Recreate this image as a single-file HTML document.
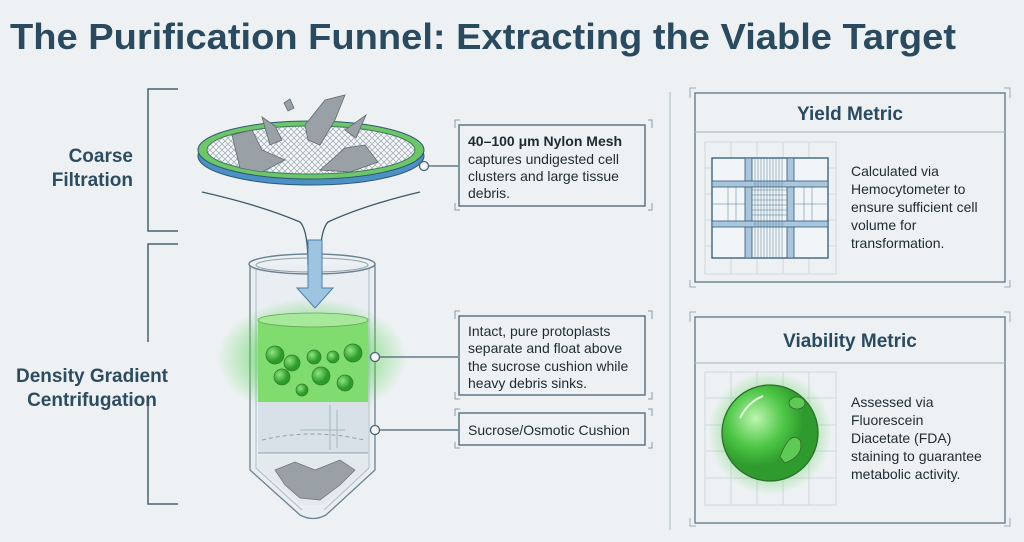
<!DOCTYPE html>
<html><head><meta charset="utf-8"><style>
html,body{margin:0;padding:0;background:#edf1f3;}
svg{display:block;font-family:"Liberation Sans",sans-serif;}
</style></head><body>
<svg width="1024" height="542" viewBox="0 0 1024 542" xmlns="http://www.w3.org/2000/svg">
<defs>
<pattern id="mesh" width="6" height="6" patternUnits="userSpaceOnUse"><rect width="6" height="6" fill="#f4f6f7"/><path d="M0 0L6 6M6 0L0 6" stroke="#9aa8b0" stroke-width="0.7"/></pattern>
<radialGradient id="glow"><stop offset="0.5" stop-color="#4fd14a" stop-opacity="0.6"/><stop offset="1" stop-color="#4fd14a" stop-opacity="0"/></radialGradient>
<radialGradient id="ball" cx="0.35" cy="0.35"><stop offset="0" stop-color="#bdf5b0"/><stop offset="0.6" stop-color="#4cc645"/><stop offset="1" stop-color="#2f9a2d"/></radialGradient>
<radialGradient id="sball" cx="0.35" cy="0.35"><stop offset="0" stop-color="#8fe67f"/><stop offset="1" stop-color="#2d9b2a"/></radialGradient>
</defs>
<rect width="1024" height="542" fill="#edf1f3"/>
<text x="10" y="49" font-size="36" font-weight="bold" fill="#2a4a5f" textLength="946" lengthAdjust="spacingAndGlyphs">The Purification Funnel: Extracting the Viable Target</text>

<!-- left brackets -->
<g stroke="#4a6373" stroke-width="1.5" fill="none">
<path d="M178 89H148V231H178"/>
<path d="M178 244H148V342"/>
<path d="M148 405V504H178"/>
</g>
<g font-size="19" font-weight="bold" fill="#2d4c60" text-anchor="end">
<text x="133" y="162">Coarse</text>
<text x="133" y="186">Filtration</text>
</g>
<g font-size="19" font-weight="bold" fill="#2d4c60" text-anchor="middle">
<text x="92" y="382">Density Gradient</text>
<text x="92" y="406">Centrifugation</text>
</g>

<!-- divider -->
<line x1="670" y1="92" x2="670" y2="530" stroke="#b7c3ca" stroke-width="1.2"/>

<!-- sieve -->
<ellipse cx="311" cy="156" rx="113" ry="29" fill="#4c91c5" stroke="#2f5870" stroke-width="1"/>
<ellipse cx="311" cy="150" rx="113" ry="29" fill="#6dc66a" stroke="#2f5870" stroke-width="1"/>
<ellipse cx="311" cy="150" rx="104" ry="24" fill="url(#mesh)" stroke="#3f7a5a" stroke-width="1"/>
<g fill="#9aa1a6" stroke="#5f6a70" stroke-width="0.8">
<path d="M232 135L252 130L262 150L285 160L262 172L240 168Z"/>
<path d="M262 117L275 126L282 140L270 145Z"/>
<path d="M305 125L325 100L345 95L335 120L320 145L308 140Z"/>
<path d="M320 170L345 148L365 145L378 162L350 172Z"/>
<path d="M345 130L366 115L356 138Z"/>
<path d="M284 103L290 99L294 108L288 111Z"/>
</g>
<!-- funnel curves -->
<g stroke="#3e5a6a" stroke-width="1.3" fill="none">
<path d="M202 192Q260 205 300 222Q308 230 308 265"/>
<path d="M420 192Q365 205 328 222Q320 230 320 265"/>
</g>
<!-- tube -->
<path d="M250 265V470L300 515Q313 522 326 515L375 470V265" fill="#e8eef1" stroke="#6b8190" stroke-width="1.3"/>
<path d="M256 268V468L302 510M369 268V468L324 510" stroke="#aebcc4" stroke-width="1" fill="none"/>
<ellipse cx="312" cy="264" rx="63" ry="10" fill="none" stroke="#6b8190" stroke-width="1.5"/>
<ellipse cx="312" cy="265" rx="56" ry="7" fill="none" stroke="#8ea0aa" stroke-width="1"/>
<!-- glow & green layer -->
<ellipse cx="312" cy="358" rx="95" ry="60" fill="url(#glow)"/>
<rect x="258" y="320" width="110" height="82" fill="#80dc6e"/>
<ellipse cx="313" cy="320" rx="55" ry="7" fill="#a8e89a" stroke="#5fa85a" stroke-width="0.8"/>
<g fill="url(#sball)" stroke="#2a7e2a" stroke-width="0.7">
<circle cx="275" cy="355" r="9"/><circle cx="292" cy="363" r="8"/><circle cx="314" cy="357" r="7"/><circle cx="333" cy="357" r="6"/><circle cx="353" cy="353" r="9"/>
<circle cx="282" cy="377" r="8"/><circle cx="302" cy="390" r="6"/><circle cx="321" cy="376" r="9"/><circle cx="345" cy="383" r="8"/>
</g>
<rect x="258" y="402" width="110" height="51" fill="#d7e1e7"/>
<path d="M258 453H368" stroke="#8ea0aa"/>
<path d="M262 440Q312 428 364 440" stroke="#8ea0aa" stroke-dasharray="4 3" fill="none"/>
<path d="M330 405V450M337 410V448M300 430H345" stroke="#a5b6c0" fill="none"/>
<path d="M258 455H368V468L324 505H302L258 468Z" fill="#e3e9ec"/>
<g fill="#9aa1a6" stroke="#6a7378" stroke-width="0.7">
<path d="M275 470L295 462L315 470L340 460L355 470L340 485L320 500L300 498L285 485Z"/>
</g>
<!-- arrow -->
<path d="M308 240H322V288H333L315 308L297 288H308Z" fill="#9fc4e2" stroke="#4a7fa8" stroke-width="1"/>

<!-- connectors -->
<g stroke="#4a6373" stroke-width="1.3" fill="none">
<line x1="424" y1="166" x2="458" y2="166"/>
<line x1="375" y1="357" x2="458" y2="357"/>
<line x1="375" y1="430" x2="458" y2="430"/>
</g>
<g fill="#f4f7f8" stroke="#4a6373" stroke-width="1.3">
<circle cx="424" cy="166" r="4.5"/><circle cx="375" cy="357" r="4.5"/><circle cx="375" cy="430" r="4.5"/>
</g>
<!-- callout boxes -->
<g fill="none" stroke="#4a6373" stroke-width="1.3">
<rect x="459" y="125" width="186" height="81"/>
<rect x="459" y="316" width="186" height="79"/>
<rect x="459" y="413" width="186" height="32"/>
</g>
<g stroke="#8a9ca6" stroke-width="1" fill="none">
<path d="M455 128V120H460M648 120H652V128M455 203V210H460M648 210H652V203"/>
<path d="M455 319V311H460M648 311H652V319M455 392V399H460M648 399H652V392"/>
<path d="M455 416V409H460M648 409H652V416M455 442V448H460M648 448H652V442"/>
</g>
<g font-size="14" fill="#1f2a30">
<text x="468" y="146" font-weight="bold">40–100 μm Nylon Mesh</text>
<text x="468" y="164">captures undigested cell</text>
<text x="468" y="181">clusters and large tissue</text>
<text x="468" y="198">debris.</text>
<text x="468" y="336">Intact, pure protoplasts</text>
<text x="468" y="353">separate and float above</text>
<text x="468" y="371">the sucrose cushion while</text>
<text x="468" y="388">heavy debris sinks.</text>
<text x="468" y="435">Sucrose/Osmotic Cushion</text>
</g>

<!-- right panels -->
<g fill="none" stroke="#5b7482" stroke-width="1.3">
<rect x="695" y="93" width="310" height="189"/>
<line x1="695" y1="132" x2="1005" y2="132" stroke="#b0bec6"/>
<rect x="695" y="317" width="310" height="206"/>
<line x1="695" y1="363" x2="1005" y2="363" stroke="#b0bec6"/>
</g>
<g stroke="#9aabb5" stroke-width="1" fill="none">
<path d="M690 98V88H696M1004 88H1010V98M690 280V287H696M1004 287H1010V280"/>
<path d="M690 322V312H696M1004 312H1010V322M690 518V526H696M1004 526H1010V518"/>
</g>
<g font-size="19" font-weight="bold" fill="#2a4a5f" text-anchor="middle">
<text x="850" y="120">Yield Metric</text>
<text x="850" y="347">Viability Metric</text>
</g>
<!-- hemocytometer -->
<g stroke="#cfd8dd" stroke-width="1" fill="none">
<rect x="705" y="142" width="131" height="132"/>
<path d="M731 142V274M757 142V274M783 142V274M809 142V274M705 168H836M705 194H836M705 220H836M705 246H836"/>
</g>
<rect x="712" y="158" width="116" height="100" fill="#f2f5f7" stroke="#2e5a7a" stroke-width="1.3"/>
<g fill="#a9c6dc" stroke="#2e5a7a" stroke-width="0.8">
<rect x="745" y="158" width="7" height="100"/><rect x="787" y="158" width="7" height="100"/>
<rect x="712" y="181" width="116" height="6"/><rect x="712" y="221" width="116" height="6"/>
</g>
<g stroke="#4f7895" stroke-width="0.5">
<path d="M755 158V258M758 158V258M761 158V258M764 158V258M767 158V258M770 158V258M773 158V258M776 158V258M779 158V258M782 158V258"/>
<path d="M752 190H787M752 195H787M752 200H787M752 205H787M752 210H787M752 215H787M712 204H745M794 204H828M728 187V221M736 187V221M804 187V221M812 187V221"/>
</g>
<g font-size="14" fill="#1f2a30">
<text x="851" y="176">Calculated via</text>
<text x="851" y="194">Hemocytometer to</text>
<text x="851" y="212">ensure sufficient cell</text>
<text x="851" y="230">volume for</text>
<text x="851" y="248">transformation.</text>
<text x="851" y="407">Assessed via</text>
<text x="851" y="425">Fluorescein</text>
<text x="851" y="443">Diacetate (FDA)</text>
<text x="851" y="461">staining to guarantee</text>
<text x="851" y="479">metabolic activity.</text>
</g>
<!-- viability icon -->
<g stroke="#cfd8dd" stroke-width="1" fill="none">
<rect x="705" y="372" width="131" height="133"/>
<path d="M731 372V505M757 372V505M783 372V505M809 372V505M705 398H836M705 425H836M705 451H836M705 478H836"/>
</g>
<circle cx="770" cy="433" r="62" fill="url(#glow)"/>
<circle cx="770" cy="433" r="48" fill="url(#ball)" stroke="#2c6e2c" stroke-width="1.3"/>
<ellipse cx="797" cy="403" rx="8" ry="6" fill="#5fc955" stroke="#2c6e2c" stroke-width="0.8"/>
<path d="M780 457Q790 430 800 440Q805 455 785 463Z" fill="#5fc955" stroke="#2c6e2c" stroke-width="0.8"/>
<path d="M740 418Q748 402 763 396" stroke="#e5ffe0" stroke-width="2" fill="none"/>
</svg>
</body></html>
